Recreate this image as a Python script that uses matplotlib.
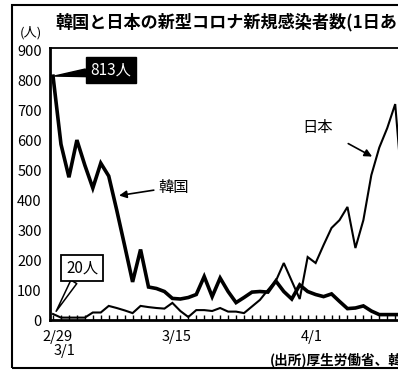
import matplotlib
matplotlib.use("Agg")
import matplotlib.pyplot as plt
from matplotlib.patches import Rectangle
from matplotlib.transforms import ScaledTranslation

plt.rcParams['font.family'] = ['Noto Sans CJK JP', 'DejaVu Sans']

# days counted from 2/29
korea = [813, 586, 476, 600, 516, 440, 523, 480, 367, 248,
         127, 235, 110, 105, 95, 72, 70, 75, 85, 145,
         78, 140, 95, 58, 75, 93, 95, 93, 130, 95,
         70, 117, 95, 85, 78, 87, 62, 38, 40, 47,
         30, 18, 18, 18, 18]
japan = [20, 8, 8, 8, 8, 25, 25, 47, 40, 32,
         23, 47, 43, 40, 38, 57, 30, 10, 33, 33,
         30, 40, 28, 28, 23, 45, 67, 100, 130, 190,
         130, 70, 210, 190, 250, 307, 333, 377, 240, 333,
         483, 575, 640, 720, 400]
korea_days = list(range(len(korea)))
japan_days = list(range(len(japan)))

tick_days = [0, 1, 15, 32]
tick_labels = ['2/29', '\n3/1', '3/15', '4/1']
y_ticks = [0, 100, 200, 300, 400, 500, 600, 700, 800, 900]

W, H = 398, 383
fig = plt.figure(figsize=(W / 100, H / 100), dpi=100)
ax = fig.add_axes([50 / W, (H - 320) / H, (470 - 50) / W, (320 - 48) / H])

ax.plot(japan_days, japan, color='black', lw=1.5, solid_joinstyle='miter')
ax.plot(korea_days, korea, color='black', lw=2.6, solid_joinstyle='miter')

ax.set_xlim(-0.38, 52.4)
ax.set_ylim(0, 907)

ax.set_yticks(y_ticks)
ax.set_yticklabels([str(v) for v in y_ticks], fontsize=10.5)
ax.tick_params(axis='y', length=0, pad=6)

ax.set_xticks(tick_days)
ax.set_xticklabels(tick_labels, fontsize=10.5, linespacing=1.05)
ax.set_xticks(range(0, 53), minor=True)
ax.tick_params(axis='x', which='both', direction='in', length=3.5, width=1.0, pad=7)
shift = ScaledTranslation(4 / 100, 0, fig.dpi_scale_trans)
for lab in ax.get_xticklabels():
    lab.set_transform(lab.get_transform() + shift)

for side in ['left', 'bottom']:
    ax.spines[side].set_linewidth(2.0)
ax.spines['top'].set_linewidth(1.3)

# callouts
ax.annotate('813人', xy=(0, 813), xytext=(7.3, 833), textcoords='data',
            color='white', fontsize=11, ha='center', va='center',
            bbox=dict(boxstyle='square,pad=0.3', fc='black', ec='black'),
            arrowprops=dict(arrowstyle='wedge,tail_width=0.5', fc='black', ec='black',
                            shrinkA=0, shrinkB=1))
ax.annotate('20人', xy=(0.3, 25), xytext=(3.65, 173), textcoords='data',
            color='black', fontsize=11, ha='center', va='center',
            bbox=dict(boxstyle='square,pad=0.3', fc='white', ec='black', lw=1.3),
            arrowprops=dict(arrowstyle='wedge,tail_width=0.45', fc='white', ec='black',
                            lw=1.1, shrinkA=0, shrinkB=1))
ax.annotate('韓国', xy=(8.3, 415), xytext=(15.1, 443), textcoords='data',
            fontsize=11, ha='center', va='center',
            arrowprops=dict(arrowstyle='-|>', color='black', lw=1.2,
                            mutation_scale=11, shrinkA=1, shrinkB=0))
ax.annotate('日本', xy=(40.1, 545), xytext=(33.3, 643), textcoords='data',
            fontsize=11, ha='center', va='center',
            arrowprops=dict(arrowstyle='-|>', color='black', lw=1.2,
                            mutation_scale=11, shrinkA=10, shrinkB=0))

# page frame, title and notes
fig.patches.append(Rectangle((12 / W, (H - 368) / H), 1.2, (368 - 5) / H,
                             transform=fig.transFigure, fill=False,
                             ec='black', lw=1.5))
fig.text(55 / W, (H - 22) / H, '韓国と日本の新型コロナ新規感染者数(1日あたり)',
         fontsize=12.3, fontweight='bold', ha='left', va='center')
fig.text(31 / W, (H - 33) / H, '(人)', fontsize=9.5, ha='center', va='center')
fig.text(270 / W, (H - 360) / H, '(出所)厚生労働省、韓国疾病管理本部',
         fontsize=9.8, fontweight='bold', ha='left', va='center')

fig.savefig('out.png', dpi=100)
